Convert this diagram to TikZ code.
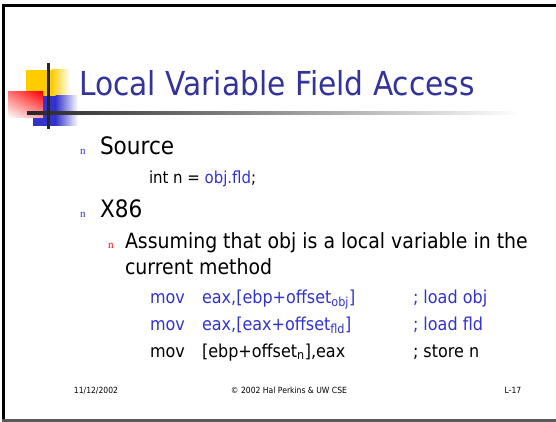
\documentclass[tikz,border=0pt]{standalone}
\usepackage{fontspec}
\usetikzlibrary{shadings}
\setmainfont{DejaVu Sans}[FakeStretch=0.9]
\newfontfamily\bulfont{Liberation Serif}
\definecolor{titleblue}{RGB}{51,51,153}
\definecolor{codeblue}{RGB}{51,51,204}
\definecolor{logoyellow}{RGB}{255,204,0}
\definecolor{logoblue}{RGB}{51,51,204}
\begin{document}
\begin{tikzpicture}[x=1pt,y=-1pt,
  txt/.style={anchor=base west,inner sep=0pt,outer sep=0pt},
  bul/.style={txt,font=\bulfont\fontsize{11}{12}\selectfont},
  lvlone/.style={txt,font=\fontsize{24}{28}\selectfont},
  lvltwo/.style={txt,font=\fontsize{21}{25}\selectfont},
  code/.style={txt,font=\fontsize{17.8}{20}\selectfont},
  foot/.style={anchor=base,inner sep=0pt,font=\fontsize{8.5}{10}\selectfont}]
\useasboundingbox (0,0) rectangle (556,422);
\fill[white] (0,0) rectangle (556,422);
% frame
\fill[black] (2,4) rectangle (556,7);
\fill[black] (2,4) rectangle (5,422);
\fill[black!65] (2,419) rectangle (556,422);
% logo
\fill[logoyellow] (26,70) rectangle (52,98);
\shade[left color=logoyellow,right color=white] (51.5,70) rectangle (70,98);
\fill[logoblue] (33,96) rectangle (56,126);
\shade[left color=logoblue,right color=white] (55.5,96) rectangle (78,126);
\shade[upper left=red!55!white,upper right=red,lower left=white,lower right=red!35!white] (8,92) rectangle (43,118);
\shade[left color=black!85,right color=white] (27,111.5) rectangle (520,114.5);
\fill[black!85] (47,63) rectangle (49.5,129);
% title
\node[txt,font=\fontsize{33}{40}\selectfont,text=titleblue] (title) at (79,96) {Local Variable Field Access};
% bullets
\node[bul,text=codeblue] (b1) at (80,155) {n};
\node[lvlone] (src) at (100,155) {Source};
\node[code,font=\fontsize{16.6}{20}\selectfont] (intn) at (149,183) {int n = \textcolor{codeblue}{obj.fld};};
\node[bul,text=codeblue] (b2) at (80,217) {n};
\node[lvlone] (x86) at (100,217) {X86};
\node[bul,text=red] (b3) at (108,248) {n};
\node[lvltwo] (assume1) at (125,248) {Assuming that obj is a local variable in the};
\node[lvltwo] (assume2) at (125,274) {current method};
% code
\node[code,text=codeblue] (m1) at (150,303) {mov};
\node[code,text=codeblue] (a1) at (202,303) {eax,[ebp+offset\textsubscript{obj}]};
\node[code,text=codeblue] (c1) at (413,303) {; load obj};
\node[code,text=codeblue] (m2) at (150,330) {mov};
\node[code,text=codeblue] (a2) at (202,330) {eax,[eax+offset\textsubscript{fld}]};
\node[code,text=codeblue] (c2) at (413,330) {; load fld};
\node[code] (m3) at (150,357) {mov};
\node[code] (a3) at (202,357) {[ebp+offset\textsubscript{n}],eax};
\node[code] (c3) at (413,357) {; store n};
% footer
\node[foot] (date) at (96,393) {11/12/2002};
\node[foot] (copy) at (289,393) {© 2002 Hal Perkins \& UW CSE};
\node[foot] (page) at (513,393) {L-17};
\end{tikzpicture}
\end{document}
